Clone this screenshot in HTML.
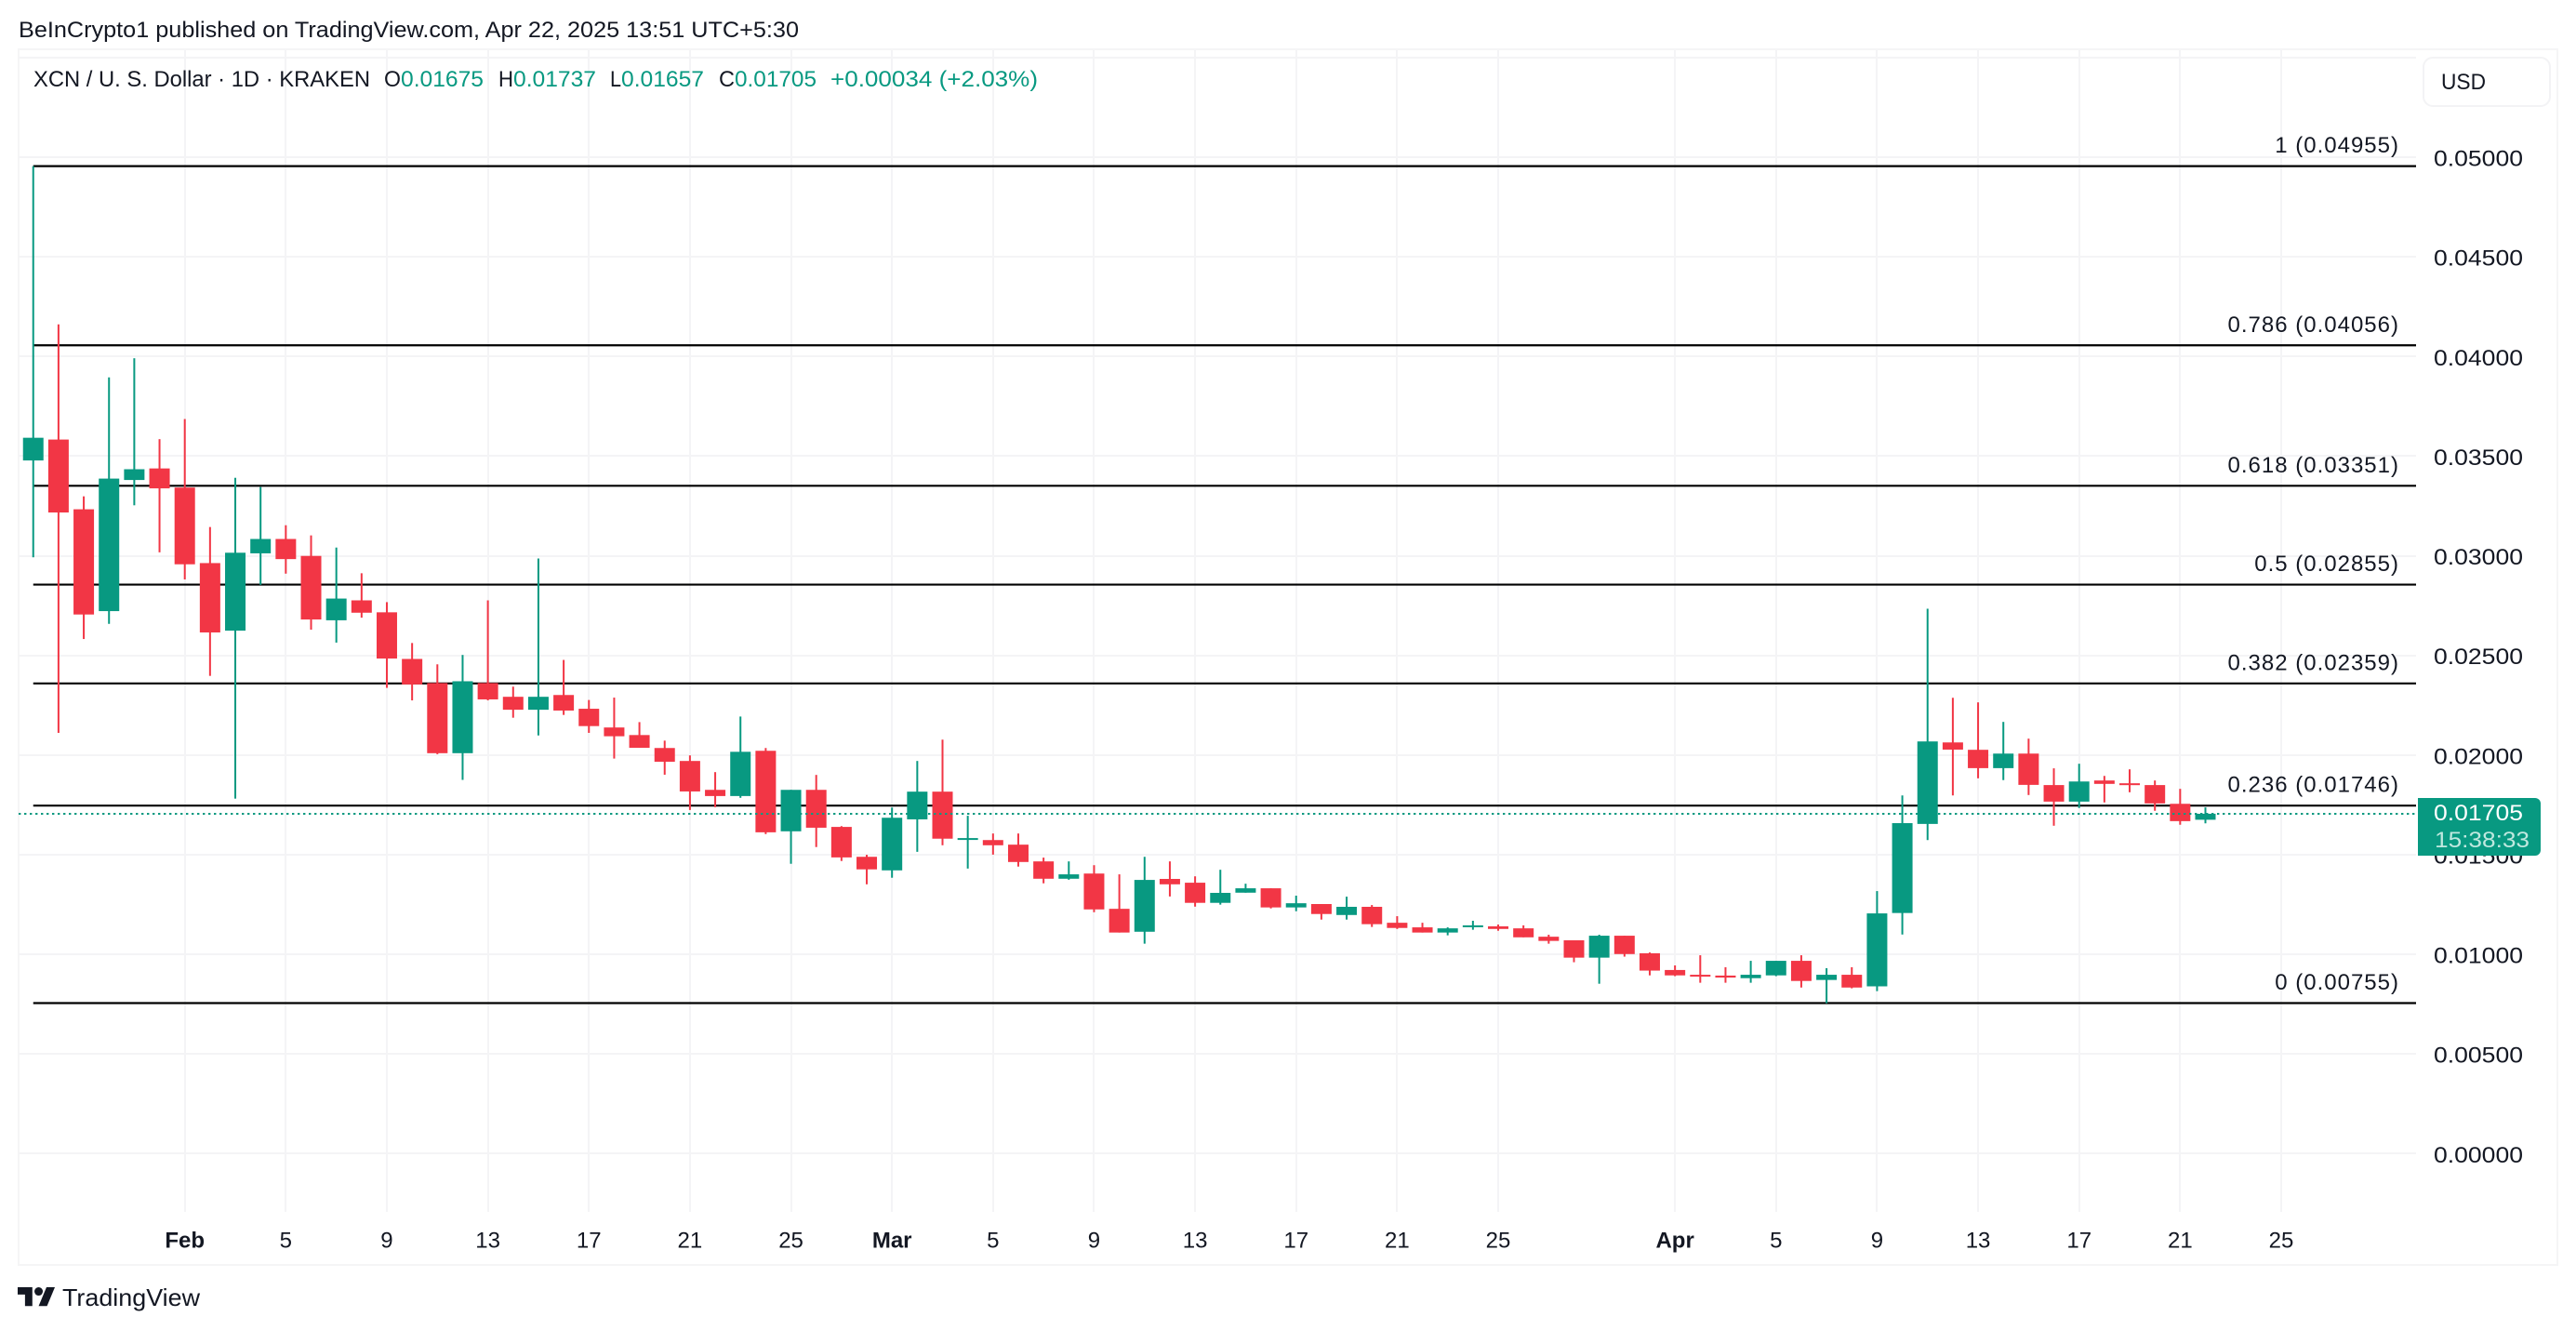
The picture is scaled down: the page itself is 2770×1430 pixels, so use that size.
<!DOCTYPE html>
<html lang="en">
<head>
<meta charset="utf-8">
<title>XCN / U. S. Dollar 1D chart</title>
<style>
html,body{margin:0;padding:0;background:#fff;width:2770px;height:1430px;overflow:hidden}
svg{display:block;font-family:"Liberation Sans",Arial,sans-serif}
text{fill:#131722}
.grid{stroke:#f4f4f6;stroke-width:2;shape-rendering:crispEdges}
.up{fill:#089981}
.down{fill:#f23645}
</style>
</head>
<body>
<svg id="chart" xmlns="http://www.w3.org/2000/svg" width="2770" height="1430" viewBox="0 0 2770 1430">
  <rect x="0" y="0" width="2770" height="1430" fill="#ffffff"/>
  <text x="20" y="40" font-size="24" textLength="839" lengthAdjust="spacingAndGlyphs">BeInCrypto1 published on TradingView.com, Apr 22, 2025 13:51 UTC+5:30</text>
  <rect x="20" y="53" width="2730" height="1307" fill="none" stroke="#f5f5f6" stroke-width="2"/>
  <g id="grid-layer"></g>
  <g id="fib-layer"></g>
  <g id="candle-layer"></g>
  <g id="last-layer"></g>
  <g id="label-layer"></g>
  <g id="y-axis-layer"></g>
  <g id="x-axis-layer"></g>

  <g font-size="24">
    <text x="36" y="93" textLength="362" lengthAdjust="spacingAndGlyphs">XCN / U. S. Dollar · 1D · KRAKEN</text>
    <text x="413" y="93" textLength="18" lengthAdjust="spacingAndGlyphs">O</text>
    <text x="431" y="93" textLength="89" lengthAdjust="spacingAndGlyphs" style="fill:#089981">0.01675</text>
    <text x="536" y="93" textLength="16" lengthAdjust="spacingAndGlyphs">H</text>
    <text x="552" y="93" textLength="89" lengthAdjust="spacingAndGlyphs" style="fill:#089981">0.01737</text>
    <text x="656" y="93" textLength="12" lengthAdjust="spacingAndGlyphs">L</text>
    <text x="668" y="93" textLength="89" lengthAdjust="spacingAndGlyphs" style="fill:#089981">0.01657</text>
    <text x="773" y="93" textLength="17" lengthAdjust="spacingAndGlyphs">C</text>
    <text x="790" y="93" textLength="88" lengthAdjust="spacingAndGlyphs" style="fill:#089981">0.01705</text>
    <text x="893" y="93" textLength="223" lengthAdjust="spacingAndGlyphs" style="fill:#089981">+0.00034 (+2.03%)</text>
  </g>

  <g>
    <rect x="2606" y="62" width="136" height="52" rx="10" fill="#ffffff" stroke="#f3f3f5" stroke-width="2"/>
    <text x="2625" y="96" font-size="24" textLength="48" lengthAdjust="spacingAndGlyphs">USD</text>
  </g>

  <g>
    <g transform="translate(19,1379.5) scale(1.127)" fill="#131722">
      <path d="M14 22H7V11H0V4h14v18z"/>
      <path d="M28 22h-8l7.5-18h8L28 22z"/>
      <circle cx="20" cy="8" r="4"/>
    </g>
    <text x="67" y="1404" font-size="26" textLength="148" lengthAdjust="spacingAndGlyphs">TradingView</text>
  </g>
</svg>

<script>
// Categories: one entry per daily candle, Jan 26 to Apr 22 2025, as day offset from Feb 1.
const firstDay = -6;
const candleCount = 87;

const opens = [0.03478,0.03583,0.03233,0.02722,0.03380,0.03438,0.03342,0.02963,0.02624,0.03012,
0.03084,0.02999,0.02676,0.02776,0.02716,0.02482,0.02361,0.02009,0.02361,0.02292,
0.02227,0.02301,0.02232,0.02138,0.02100,0.02035,0.01970,0.01825,0.01794,0.02021,
0.01617,0.01825,0.01639,0.01489,0.01421,0.01677,0.01816,0.01575,0.01573,0.01550,
0.01466,0.01379,0.01405,0.01228,0.01113,0.01378,0.01359,0.01258,0.01309,0.01331,
0.01235,0.01252,0.01197,0.01238,0.01158,0.01135,0.01109,0.01137,0.01140,0.01130,
0.01088,0.01070,0.00983,0.01093,0.01005,0.00921,0.00897,0.00893,0.00880,0.00894,
0.00967,0.00871,0.00897,0.00839,0.01207,0.01654,0.02063,0.02026,0.01934,0.02007,
0.01849,0.01766,0.01872,0.01858,0.01849,0.01755,0.01675];

const highs = [0.04955,0.04161,0.03298,0.03895,0.03991,0.03585,0.03686,0.03144,0.03391,0.03345,
0.03153,0.03102,0.03041,0.02912,0.02767,0.02562,0.02455,0.02502,0.02776,0.02343,
0.02986,0.02477,0.02276,0.02288,0.02165,0.02072,0.01998,0.01914,0.02193,0.02035,
0.01825,0.01900,0.01643,0.01499,0.01736,0.01970,0.02077,0.01695,0.01606,0.01606,
0.01485,0.01466,0.01447,0.01401,0.01489,0.01466,0.01391,0.01424,0.01354,0.01331,
0.01294,0.01252,0.01289,0.01247,0.01191,0.01158,0.01135,0.01168,0.01149,0.01145,
0.01098,0.01070,0.01098,0.01093,0.01009,0.00944,0.00995,0.00935,0.00967,0.00967,
0.00995,0.00930,0.00935,0.01317,0.01797,0.02734,0.02287,0.02264,0.02166,0.02082,
0.01933,0.01956,0.01895,0.01928,0.01872,0.01830,0.01737];

const lows = [0.02992,0.02111,0.02582,0.02658,0.03253,0.03017,0.02881,0.02397,0.01781,0.02854,
0.02910,0.02629,0.02564,0.02689,0.02337,0.02274,0.02004,0.01875,0.02274,0.02187,
0.02098,0.02201,0.02111,0.01982,0.02036,0.01901,0.01724,0.01738,0.01785,0.01603,
0.01454,0.01538,0.01468,0.01351,0.01384,0.01514,0.01547,0.01430,0.01500,0.01440,
0.01356,0.01374,0.01211,0.01109,0.01053,0.01290,0.01239,0.01249,0.01309,0.01230,
0.01216,0.01174,0.01174,0.01137,0.01127,0.01109,0.01095,0.01123,0.01118,0.01085,
0.01053,0.00960,0.00852,0.00988,0.00894,0.00890,0.00857,0.00857,0.00857,0.00890,
0.00833,0.00754,0.00829,0.00815,0.01099,0.01573,0.01797,0.01883,0.01874,0.01799,
0.01645,0.01734,0.01762,0.01813,0.01720,0.01650,0.01657];

const closes = [0.03592,0.03217,0.02705,0.03387,0.03434,0.03338,0.02957,0.02615,0.03015,0.03084,
0.02983,0.02680,0.02785,0.02714,0.02484,0.02354,0.02009,0.02370,0.02279,0.02227,
0.02292,0.02223,0.02145,0.02094,0.02036,0.01966,0.01817,0.01794,0.02016,0.01612,
0.01825,0.01635,0.01486,0.01426,0.01685,0.01816,0.01580,0.01583,0.01547,0.01463,
0.01379,0.01401,0.01225,0.01109,0.01373,0.01351,0.01258,0.01308,0.01331,0.01235,
0.01256,0.01202,0.01238,0.01151,0.01132,0.01109,0.01130,0.01145,0.01127,0.01085,
0.01067,0.00983,0.01093,0.01001,0.00918,0.00894,0.00890,0.00883,0.00897,0.00967,
0.00866,0.00897,0.00833,0.01205,0.01658,0.02068,0.02027,0.01934,0.02007,0.01850,
0.01766,0.01867,0.01855,0.01850,0.01757,0.01668,0.01705];

// Time axis ticks: label, day offset from Feb 1, and whether it is a month label.
const tickLabels = ['Feb','5','9','13','17','21','25','Mar','5','9','13','17','21','25','Apr','5','9','13','17','21','25'];
const tickDays = [0,4,8,12,16,20,24,28,32,36,40,44,48,52,59,63,67,71,75,79,83];
const tickBold = ['Feb','Mar','Apr'];

// Price axis ticks.
const gridPrices = [0.055,0.05,0.045,0.04,0.035,0.03,0.025,0.02,0.015,0.01,0.005,0];
const axisPrices = [0.05,0.045,0.04,0.035,0.03,0.025,0.02,0.015,0.01,0.005,0];

// Fibonacci retracement levels.
const fibRatios = ['1','0.786','0.618','0.5','0.382','0.236','0'];
const fibPrices = [0.04955,0.04056,0.03351,0.02855,0.02359,0.01746,0.00755];

const lastPrice = 0.01705;
const lastCountdown = '15:38:33';

const NS = 'http://www.w3.org/2000/svg';
const PANE_RIGHT = 2598;
const PANE_BOTTOM = 1303;

function priceToY(p){ return 1026 - (p - 0.01) * 21425; }
function dayToX(d){ return 198.7 + d * 27.16; }
function make(tag, attrs, parent){
  const e = document.createElementNS(NS, tag);
  for (const k in attrs) e.setAttribute(k, attrs[k]);
  parent.appendChild(e);
  return e;
}

const gridLayer = document.getElementById('grid-layer');
gridPrices.forEach(function(p){
  const y = Math.round(priceToY(p));
  const el = make('line', {x1:20, x2:PANE_RIGHT, y1:y, y2:y, class:'grid'}, gridLayer);
  
  
});
tickDays.forEach(function(d){
  const x = Math.round(dayToX(d));
  const el = make('line', {x1:x, x2:x, y1:54, y2:PANE_BOTTOM, class:'grid'}, gridLayer);
  
  
});

const fibLayer = document.getElementById('fib-layer');
const labelLayer = document.getElementById('label-layer');
fibPrices.forEach(function(p, i){
  const y = priceToY(p);
  const line = make('line', {x1:dayToX(firstDay), x2:PANE_RIGHT, y1:y, y2:y, stroke:'#000000', 'stroke-width':2.2}, fibLayer);
  
  
  const t = make('text', {x:2580, y:y - 14.5, 'font-size':24, 'text-anchor':'end', 'letter-spacing':'1'}, labelLayer);
  t.textContent = fibRatios[i] + ' (' + p.toFixed(5) + ')';
  
  
});

const candleLayer = document.getElementById('candle-layer');
for (let i = 0; i < candleCount; i++){
  const up = closes[i] >= opens[i];
  const cls = up ? 'up' : 'down';
  const cx = dayToX(firstDay + i);
  const g = make('g', {class:cls}, candleLayer);
  
  
  const yH = priceToY(highs[i]);
  const yL = priceToY(lows[i]);
  const yT = priceToY(Math.max(opens[i], closes[i]));
  const yB = priceToY(Math.min(opens[i], closes[i]));
  const wick = make('rect', {x:cx - 1, y:yH, width:2, height:Math.max(yL - yH, 1)}, g);
  
  
  const body = make('rect', {x:cx - 11, y:yT, width:22, height:Math.max(yB - yT, 2)}, g);
  
  
}

const lastLayer = document.getElementById('last-layer');
const lastY = priceToY(lastPrice);
const lastLine = make('line', {x1:20, x2:2600, y1:lastY, y2:lastY, stroke:'#089981', 'stroke-width':2, 'stroke-dasharray':'2.4 3.6'}, lastLayer);



const yAxis = document.getElementById('y-axis-layer');
axisPrices.forEach(function(p){
  const t = make('text', {x:2617, y:priceToY(p) + 9.5, 'font-size':24, textLength:96, lengthAdjust:'spacingAndGlyphs'}, yAxis);
  t.textContent = p.toFixed(5);
  
  
});
const tag = make('path', {d:'M2600 ' + (lastY - 17) + 'H2726a6 6 0 0 1 6 6V' + (lastY + 39) + 'a6 6 0 0 1 -6 6H2600Z', fill:'#089981'}, yAxis);


const tagPrice = make('text', {x:2617, y:lastY + 7, 'font-size':24, textLength:96, lengthAdjust:'spacingAndGlyphs', style:'fill:#ffffff'}, yAxis);
tagPrice.textContent = lastPrice.toFixed(5);


const tagTime = make('text', {x:2618, y:lastY + 36, 'font-size':24, textLength:102, lengthAdjust:'spacingAndGlyphs', style:'fill:#bfe8df'}, yAxis);
tagTime.textContent = lastCountdown;



const xAxis = document.getElementById('x-axis-layer');
tickLabels.forEach(function(lbl, i){
  const bold = tickBold.indexOf(lbl) >= 0;
  const t = make('text', {x:dayToX(tickDays[i]), y:1341.5, 'font-size':24, 'text-anchor':'middle', 'font-weight': bold ? 700 : 400}, xAxis);
  t.textContent = lbl;
  
  
});
</script>
</body>
</html>
